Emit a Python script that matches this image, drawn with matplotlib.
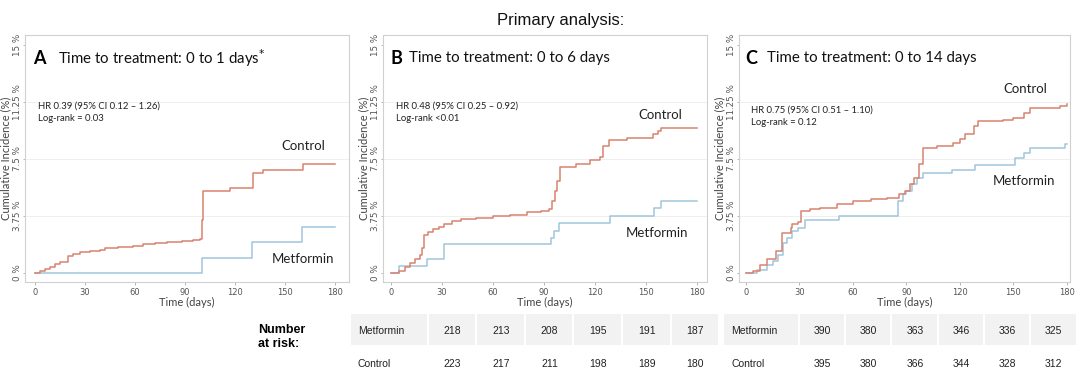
import matplotlib.pyplot as plt
from matplotlib.patches import Rectangle

# panel data: days and cumulative incidence (%)
a_ctrl_t = [0, 3, 6, 9, 12, 15, 20, 23, 27, 33, 39, 42, 50, 59, 65, 72, 79, 88, 95, 99, 100, 100.5, 117, 131, 137, 161, 180]
a_ctrl_v = [0, 0.1, 0.25, 0.4, 0.6, 0.7, 1.1, 1.25, 1.37, 1.45, 1.5, 1.65, 1.7, 1.76, 1.87, 1.95, 2.05, 2.1, 2.15, 2.2, 3.5, 5.36, 5.56, 6.6, 6.77, 7.17, 7.17]
a_met_t = [0, 100, 130, 160, 180]
a_met_v = [0, 1.0, 2.03, 3.0, 3.0]

b_ctrl_t = [0, 5, 8, 11, 14, 17, 18, 19.5, 22, 25, 28, 31, 36, 41, 50, 60, 70, 80, 88, 93, 95, 96.5, 97.5, 99.5, 109, 117, 123, 125, 128, 139, 154, 157, 159, 180]
b_ctrl_v = [0, 0.15, 0.4, 0.65, 0.9, 1.2, 1.65, 2.5, 2.7, 2.87, 3.05, 3.24, 3.4, 3.53, 3.62, 3.75, 3.83, 4.0, 4.1, 4.19, 4.74, 5.4, 6.07, 6.95, 7.17, 7.4, 7.6, 8.38, 8.76, 8.87, 9.15, 9.35, 9.53, 9.53]
b_met_t = [0, 5, 21, 31, 94, 96, 99, 129, 155, 159, 180]
b_met_v = [0, 0.44, 0.93, 1.88, 2.32, 2.76, 3.26, 3.75, 4.3, 4.74, 4.74]

c_ctrl_t = [0, 4, 8, 12, 17, 20, 25, 26, 29, 31, 36, 41.5, 51, 60, 70, 79, 86, 89, 92, 94, 97, 99, 107, 116, 120, 123, 128, 130, 144, 150, 156, 159, 172.5, 176, 180]
c_ctrl_v = [0, 0.15, 0.5, 0.9, 1.43, 2.64, 2.97, 3.23, 3.35, 4.07, 4.18, 4.29, 4.5, 4.73, 4.88, 4.95, 5.16, 5.38, 5.82, 6.26, 7.14, 8.24, 8.35, 8.57, 8.79, 9.12, 9.67, 10.0, 10.04, 10.2, 10.55, 10.84, 10.84, 11.0, 11.14]
c_met_t = [0, 6, 11.6, 15, 18, 21, 23, 26, 29, 33, 52, 85.5, 88, 90, 93, 96, 99, 115.5, 128.5, 151, 156, 159, 179, 180]
c_met_v = [0, 0.2, 0.55, 0.8, 1.2, 1.98, 2.31, 2.75, 2.97, 3.47, 3.74, 4.73, 5.16, 5.38, 5.82, 6.26, 6.59, 6.8, 7.1, 7.58, 7.91, 8.24, 8.46, 8.46]

letters = ['A', 'B', 'C']
titles = ['Time to treatment: 0 to 1 days', 'Time to treatment: 0 to 6 days', 'Time to treatment: 0 to 14 days']
hr_text = ['HR 0.39 (95% CI 0.12 – 1.26)\nLog-rank = 0.03',
           'HR 0.48 (95% CI 0.25 – 0.92)\nLog-rank <0.01',
           'HR 0.75 (95% CI 0.51 – 1.10)\nLog-rank = 0.12']

y_ticks = [0, 3.75, 7.5, 11.25, 15]
y_tick_labels = ['0 %', '3.75 %', '7.5 %', '11.25 %', '15 %']
x_ticks = [0, 30, 60, 90, 120, 150, 180]

# number at risk (panels B and C)
risk_groups = ['Metformin', 'Control']
risk_b_met = [218, 213, 208, 195, 191, 187]
risk_b_ctrl = [223, 217, 211, 198, 189, 180]
risk_c_met = [390, 380, 363, 346, 336, 325]
risk_c_ctrl = [395, 380, 366, 344, 328, 312]

RED = '#d8836f'
BLUE = '#9fc6dc'
FONT = 'Lato'

fig = plt.figure(figsize=(10.8, 3.9), dpi=100)
W, H = 1080, 390

def px_axes(l, t, r, b):
    return fig.add_axes([l / W, 1 - b / H, (r - l) / W, (b - t) / H])

# axes placement in pixels: left, top, right, bottom; plus xlim
panels = [
    dict(box=(25, 35, 349, 282), xlim=(-6, 188.4), ctrl=(a_ctrl_t, a_ctrl_v), met=(a_met_t, a_met_v),
         title_x=(33, 58), star=True, hr_pos=(38, 112),
         ctrl_lab=(303, 146), met_lab=(303, 259)),
    dict(box=(383, 35, 707, 282), xlim=(-4.7, 185.9), ctrl=(b_ctrl_t, b_ctrl_v), met=(b_met_t, b_met_v),
         title_x=(390, 409), star=False, hr_pos=(396, 112),
         ctrl_lab=(660, 115), met_lab=(657, 233)),
    dict(box=(739, 35, 1070, 282), xlim=(-3.9, 181.7), ctrl=(c_ctrl_t, c_ctrl_v), met=(c_met_t, c_met_v),
         title_x=(745, 767), star=False, hr_pos=(751, 116),
         ctrl_lab=(1025, 89), met_lab=(1024, 181)),
]

for i, p in enumerate(panels):
    ax = px_axes(*p['box'])
    ax.step(p['met'][0], p['met'][1], where='post', color=BLUE, lw=1.1)
    ax.step(p['ctrl'][0], p['ctrl'][1], where='post', color=RED, lw=1.1)
    ax.set_xlim(*p['xlim'])
    ax.set_ylim(-0.6, 15.65)
    ax.set_yticks(y_ticks)
    ax.set_yticklabels(y_tick_labels, rotation=90, va='center', fontsize=6.3, color='#555555')
    ax.set_xticks(x_ticks)
    ax.set_xticklabels([str(x) for x in x_ticks], fontsize=6, color='#555555')
    ax.tick_params(axis='y', length=1.5, width=0.5, color='#999999', pad=1)
    ax.tick_params(axis='x', length=2, width=0.5, color='#999999', pad=2)
    for y in y_ticks[1:4]:
        ax.axhline(y, color='#ececec', lw=0.6, zorder=0)
    for s in ax.spines.values():
        s.set_color('#d0d0d0')
        s.set_linewidth(0.8)
    ax.set_xlabel('Time (days)', fontsize=8, color='#444444', labelpad=0, family=FONT)
    ax.set_ylabel('Cumulative Incidence (%)', fontsize=8, color='#444444', family=FONT, va='center')
    box_l, box_r = p['box'][0], p['box'][2]
    ax.yaxis.set_label_coords(-19 / (box_r - box_l), 0.5)

    lx, tx = p['title_x']
    fig.text(lx / W, 1 - 58 / H, letters[i], fontsize=13, fontweight='bold', va='center',
             family=FONT, color='black')
    title = titles[i] + (r'$^{*}$' if p['star'] else '')
    fig.text(tx / W, 1 - 58 / H, title, fontsize=10.8, va='center', family=FONT, color='#111111')
    hx, hy = p['hr_pos']
    fig.text(hx / W, 1 - hy / H, hr_text[i], fontsize=6.8, va='center', family=FONT,
             color='#222222', linespacing=1.45)
    cx, cy = p['ctrl_lab']
    fig.text(cx / W, 1 - cy / H, 'Control', fontsize=9.5, ha='center', va='center', family=FONT, color='#222222')
    mx, my = p['met_lab']
    fig.text(mx / W, 1 - my / H, 'Metformin', fontsize=9.5, ha='center', va='center', family=FONT, color='#222222')

fig.text(561 / W, 1 - 20 / H, 'Primary analysis:', fontsize=12, ha='center', va='center',
         family='Liberation Sans', color='#111111')

# number at risk table
fig.text(258 / W, 1 - 337 / H, 'Number\nat risk:', fontsize=9, fontweight='bold', va='center',
         ha='left', multialignment='left', family='Liberation Sans', linespacing=1.3)

tables = [
    dict(x0=350, lab_w=78, cell_w=48.6, rows=(risk_b_met, risk_b_ctrl)),
    dict(x0=723, lab_w=76, cell_w=(1077 - 723 - 76) / 6, rows=(risk_c_met, risk_c_ctrl)),
]

row_y = [331, 364]
for tb in tables:
    x0, lw_, cw = tb['x0'], tb['lab_w'], tb['cell_w']
    # shaded first row, split into cells
    edges = [x0, x0 + lw_] + [x0 + lw_ + cw * (k + 1) for k in range(6)]
    for k in range(len(edges) - 1):
        fig.patches.append(Rectangle((edges[k] / W + 0.5 / W, 1 - 345 / H), (edges[k + 1] - edges[k] - 2) / W,
                                     31 / H, transform=fig.transFigure, facecolor='#f2f2f2',
                                     edgecolor='none', zorder=0))
    for r, vals in enumerate(tb['rows']):
        y = 1 - row_y[r] / H
        fig.text((x0 + 8) / W, y, risk_groups[r], fontsize=7.5, va='center', family='Liberation Sans', color='#222222')
        for k, v in enumerate(vals):
            cxp = x0 + lw_ + cw * (k + 0.5)
            fig.text(cxp / W, y, str(v), fontsize=7.5, ha='center', va='center',
                     family='Liberation Sans', color='#222222')

fig.savefig('out.png', dpi=100, facecolor='white')
